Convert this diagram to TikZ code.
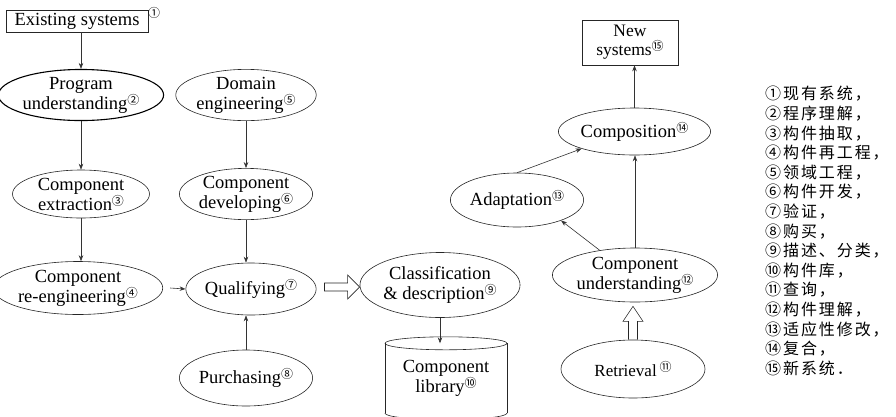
\documentclass[tikz,border=0pt]{standalone}
\usepackage{fontspec}
\setmainfont{Liberation Serif}
\newfontfamily\cjk{Noto Sans CJK SC}
\newfontfamily\cjklist[LetterSpace=12]{Noto Sans CJK SC}
\usetikzlibrary{shapes.geometric,arrows.meta,calc}

% small raised circled step number
\newcommand\cnum[1]{\raisebox{5pt}{\cjk\fontsize{12}{12}\selectfont #1}}

\tikzset{
  every node/.style={font=\fontsize{18.5}{20}\selectfont},
  oval/.style={ellipse, draw=black!85, line width=0.6pt, inner sep=0pt, align=center},
  box/.style={rectangle, draw=black!85, line width=0.6pt, inner sep=0pt, align=center},
  conn/.style={draw=black!80, line width=0.6pt, -{Stealth[length=6pt,width=4.5pt]}},
  hollow/.style={draw=black!85, line width=0.6pt, line join=miter},
  outline/.style={draw=black!85, line width=0.6pt},
}

\begin{document}
\begin{tikzpicture}[x=1pt, y=-1pt]
\useasboundingbox (0,0) rectangle (896,416);

% ---------- reverse engineering branch ----------
\node[box, minimum width=142pt, minimum height=22pt] (exist) at (77,21) {Existing systems};
\node[anchor=west, inner sep=0pt] (exnum) at (148,13) {\cjk\fontsize{12}{12}\selectfont ①};
\node[oval, draw=black, line width=1.1pt, minimum width=137pt, minimum height=46pt] (prog) at (81,95) {Program\\understanding\cnum{②}};
\node[oval, minimum width=137pt, minimum height=48pt] (extr) at (81,194) {Component\\extraction\cnum{③}};
\node[oval, minimum width=144pt, minimum height=53pt] (reeng) at (78,288) {Component\\re-engineering\cnum{④}};

% ---------- domain engineering branch ----------
\node[oval, minimum width=124pt, minimum height=46pt] (dom) at (246,95) {Domain\\engineering\cnum{⑤}};
\node[oval, minimum width=124pt, minimum height=48pt] (dev) at (246,194) {Component\\developing\cnum{⑥}};
\node[oval, minimum width=128pt, minimum height=52pt] (qual) at (251,289) {Qualifying\cnum{⑦}};
\node[oval, minimum width=122pt, minimum height=56pt] (purch) at (246,378) {Purchasing\cnum{⑧}};

% ---------- classification and library ----------
\node[oval, minimum width=140pt, minimum height=65pt] (cls) at (440,285) {Classification\\\& description\cnum{⑨}};
\node[inner sep=0pt, minimum width=122pt, minimum height=69.5pt, align=center] (lib) at (446,378.25) {Component\\library\cnum{⑩}};
\draw[outline] (lib.north) ellipse [x radius=61, y radius=6.5];
\draw[outline] (lib.north west) -- (lib.south west);
\draw[outline] (lib.north east) -- (lib.south east);
\begin{scope}
  \clip ($(lib.south west)+(-2,0)$) rectangle ($(lib.south east)+(2,12)$);
  \draw[outline] (lib.south) ellipse [x radius=61, y radius=6.5];
\end{scope}

% ---------- reuse branch ----------
\node[oval, minimum width=144pt, minimum height=58pt, font=\fontsize{17}{19}\selectfont] (retr) at (633,369) {Retrieval\,\cnum{⑪}};
\node[oval, minimum width=144pt, minimum height=54pt] (cund) at (635,275) {Component\\understanding\cnum{⑫}};
\node[oval, minimum width=114pt, minimum height=54pt] (adap) at (517,200) {Adaptation\cnum{⑬}};
\node[oval, minimum width=125pt, minimum height=47pt] (comp) at (634.5,131.5) {Composition\cnum{⑭}};
\node[box, minimum width=96pt, minimum height=45pt, font=\fontsize{17.5}{19}\selectfont] (news) at (630,42.5) {New\\systems\cnum{⑮}};

% ---------- connectors ----------
\draw[conn] (exist.south -| prog.north) -- (prog.north);
\draw[conn] (prog.south) -- (extr.north);
\draw[conn] (extr.south) -- (extr.south |- reeng.north);
\draw[conn] ([xshift=7pt]reeng.east) -- (qual.west);
\draw[conn] (dom.south) -- (dev.north);
\draw[conn] (dev.south) -- (dev.south |- qual.north);
\draw[conn] (purch.north) -- (purch.north |- qual.south);
\draw[conn] (cls.south) -- (cls.south |- lib.north);
\draw[conn] (cund.north) -- (cund.north |- comp.south);
\draw[conn] (cund.145) -- (adap.-25);
\draw[conn] (adap.north) -- (comp.198);
\draw[conn] (comp.north) -- (comp.north |- news.south);

% hollow arrow: qualified components go to classification
\coordinate (h0) at ($(qual.east)+(8,-2)$);
\coordinate (h1) at (cls.west |- h0);
\draw[hollow] ($(h0)+(0,-4)$) -- ($(h1)+(-12,-4)$) -- ($(h1)+(-12,-12)$) -- (h1)
  -- ($(h1)+(-12,12)$) -- ($(h1)+(-12,4)$) -- ($(h0)+(0,4)$) -- cycle;

% hollow arrow: retrieved components go to understanding
\coordinate (v0) at (retr.north);
\coordinate (v1) at ($(v0 |- cund.south)+(0,4)$);
\draw[hollow] ($(v0)+(-4.5,0)$) -- ($(v1)+(-4.5,15)$) -- ($(v1)+(-10,15)$) -- (v1)
  -- ($(v1)+(10,15)$) -- ($(v1)+(4.5,15)$) -- ($(v0)+(4.5,0)$);

% ---------- legend ----------
\node[anchor=west, align=left, inner sep=0pt, font=\cjklist\fontsize{16}{19.6}\selectfont] (legend) at (765,231)
  {①现有系统，\\②程序理解，\\③构件抽取，\\④构件再工程，\\⑤领域工程，\\⑥构件开发，\\⑦验证，\\⑧购买，\\%
   ⑨描述、分类，\\⑩构件库，\\⑪查询，\\⑫构件理解，\\⑬适应性修改，\\⑭复合，\\⑮新系统．};
\end{tikzpicture}
\end{document}
